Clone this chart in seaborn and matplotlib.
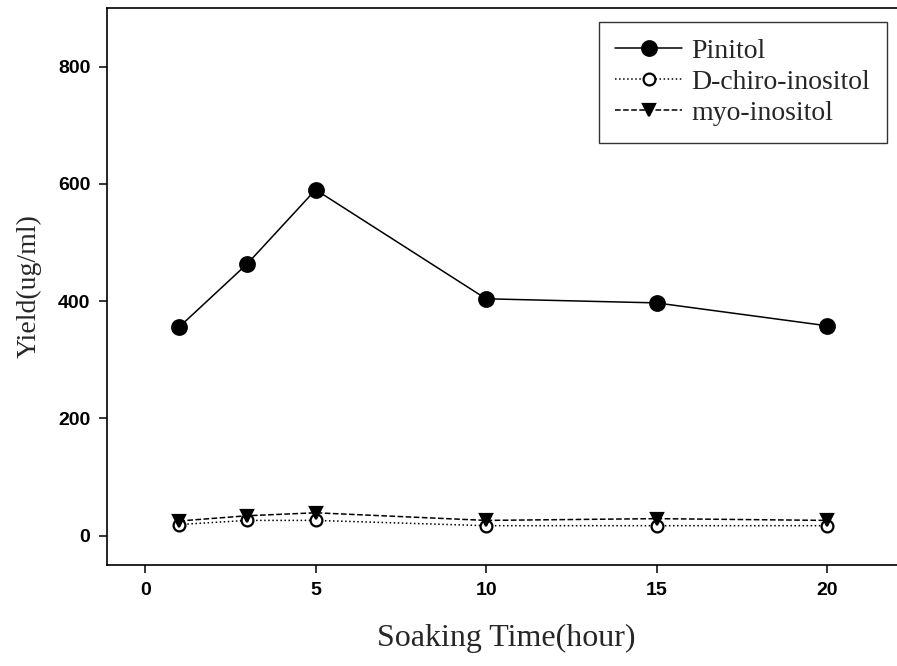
import matplotlib
matplotlib.use("Agg")
import matplotlib.pyplot as plt
import seaborn as sns
import pandas as pd

hours = [1, 3, 5, 10, 15, 20]
pinitol = [356, 464, 590, 404, 397, 358]
dchiro = [19, 26, 26, 17, 17, 17]
myo = [25, 34, 39, 26, 29, 26]
series_names = ["Pinitol", "D-chiro-inositol", "myo-inositol"]
x_ticks = [0, 5, 10, 15, 20]
y_ticks = [0, 200, 400, 600, 800]

sns.set_theme(style="ticks")
plt.rcParams["font.family"] = ["Liberation Sans", "DejaVu Sans"]

fig = plt.figure(figsize=(8.97, 6.66), dpi=100)
ax = fig.add_axes([0.1193, 0.1517, 0.89, 0.8363])

styles = [
    dict(marker="o", linestyle="-", ms=10.5, mfc="black"),
    dict(marker="o", linestyle=":", ms=8.5, mfc="white"),
    dict(marker="v", linestyle="--", ms=9, mfc="black"),
]
for name, vals, st in zip(series_names, [pinitol, dchiro, myo], styles):
    df = pd.DataFrame({"x": hours, "y": vals})
    sns.lineplot(data=df, x="x", y="y", ax=ax, color="black", lw=1.1,
                 marker=st["marker"], linestyle=st["linestyle"],
                 markersize=st["ms"], markerfacecolor=st["mfc"],
                 markeredgecolor="black", markeredgewidth=1.6, label=name)

ax.set_xlim(-1.12, 22.3)
ax.set_ylim(-50, 900)
ax.set_xticks(x_ticks)
ax.set_yticks(y_ticks)
ax.tick_params(direction="out", length=6, width=1.1, colors="black", pad=6)
for lab in ax.get_xticklabels() + ax.get_yticklabels():
    lab.set_fontweight("bold")
    lab.set_fontsize(14)
for s in ax.spines.values():
    s.set_color("black")
    s.set_linewidth(1.2)

ax.set_xlabel("Soaking Time(hour)", fontfamily="Liberation Serif", fontsize=23, labelpad=18)
ax.set_ylabel("Yield(ug/ml)", fontfamily="Liberation Serif", fontsize=20, labelpad=12)

leg = ax.legend(loc="upper right", bbox_to_anchor=(0.977, 0.975), borderaxespad=0,
                frameon=True, fancybox=False, edgecolor="black", numpoints=1,
                handlelength=2.4, handletextpad=0.35, borderpad=0.6, labelspacing=0.2,
                prop={"family": "Liberation Serif", "size": 20})
leg.get_frame().set_linewidth(1.0)

fig.savefig("out.png", dpi=100)
